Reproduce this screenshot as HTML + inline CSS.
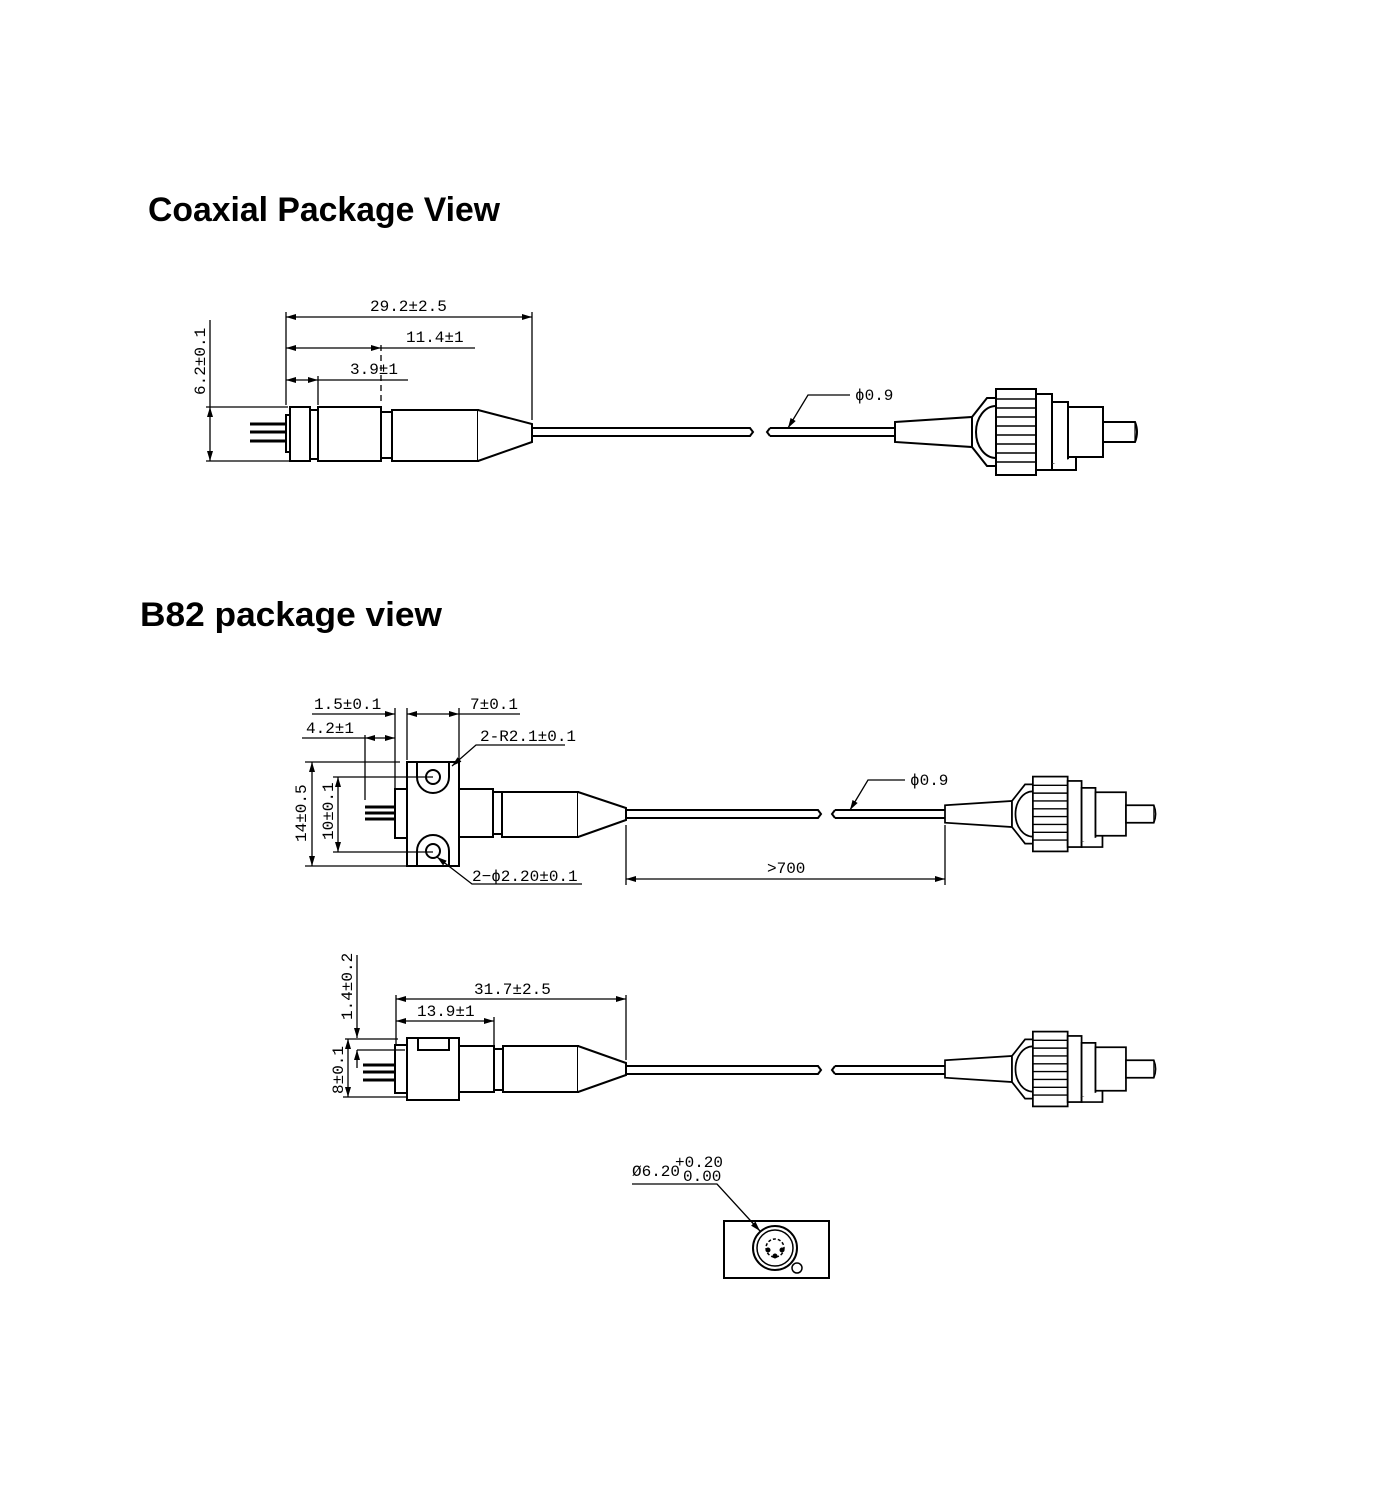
<!DOCTYPE html>
<html><head><meta charset="utf-8"><style>
html,body{margin:0;padding:0;background:#fff;}
svg{display:block}
.t{font-family:"Liberation Sans",sans-serif;fill:#000;font-weight:bold}
.d{font-family:"Liberation Mono",monospace;font-size:16px;fill:#000}
</style></head><body>
<svg width="1400" height="1500" viewBox="0 0 1400 1500" xmlns="http://www.w3.org/2000/svg">
<defs>
<marker id="a" viewBox="0 0 10 6" refX="10" refY="3" markerWidth="10" markerHeight="6" orient="auto-start-reverse" markerUnits="userSpaceOnUse"><path d="M0,0 L10,3 L0,6z" fill="#000"/></marker>
<g id="conn" fill="#fff" stroke="#000" stroke-width="2">
<path d="M0,-10 L77,-15 L77,15 L0,10z"/>
<path d="M77,-15 L92,-34 L101,-34 L101,34 L92,34 L77,15z"/>
<path d="M101,-26 A20,26 0 0 0 101,26" fill="none"/>
<rect x="101" y="-43" width="40" height="86"/>
<path d="M101,-33H141M101,-24H141M101,-15H141M101,-6H141M101,3H141M101,12H141M101,21H141M101,30H141" stroke-width="1.6"/>
<rect x="141" y="-38" width="16" height="76"/>
<path d="M157,-30 H173 V32 H157z"/>
<path d="M157,32 V38 H181 V25"/>
<rect x="173" y="-25" width="35" height="50"/>
<path d="M208,-10 H240 Q244,0 240,10 H208z"/>
<path d="M240,-10 V10" stroke-width="1.2"/>
</g>
</defs>

<text class="t" x="148" y="221" font-size="34" textLength="352" lengthAdjust="spacingAndGlyphs">Coaxial Package View</text>
<text class="t" x="140" y="626" font-size="34" textLength="302" lengthAdjust="spacingAndGlyphs">B82 package view</text>

<!-- ===== Coaxial ===== -->
<g stroke="#000" stroke-width="2" fill="#fff">
<path d="M250,424H286M250,432H286M250,441H286" stroke-width="3"/>
<rect x="286" y="415" width="4" height="37"/>
<rect x="290" y="407" width="20" height="54"/>
<rect x="310" y="410" width="8" height="49"/>
<rect x="318" y="407" width="63" height="54"/>
<rect x="381" y="412" width="11" height="46"/>
<rect x="392" y="410" width="86" height="51"/>
<path d="M478,410 L532,424 L532,442 L478,461"/>
<path d="M532,428H750 L753,432 L750,436 H532" fill="none"/>
<path d="M770,428H895M770,436H895 M770,428 L767,432 L770,436" fill="none"/>
</g>
<use href="#conn" transform="translate(895,432)"/>
<g stroke="#000" stroke-width="1.3" fill="none">
<line x1="286" y1="312" x2="286" y2="405"/>
<line x1="532" y1="312" x2="532" y2="420"/>
<line x1="381" y1="345" x2="381" y2="405" stroke-dasharray="6,4"/>
<line x1="318" y1="376" x2="318" y2="405"/>
<line x1="286" y1="317" x2="532" y2="317" marker-start="url(#a)" marker-end="url(#a)"/>
<line x1="286" y1="348" x2="381" y2="348" marker-start="url(#a)" marker-end="url(#a)"/>
<line x1="381" y1="348" x2="475" y2="348"/>
<line x1="286" y1="380" x2="318" y2="380" marker-start="url(#a)" marker-end="url(#a)"/>
<line x1="318" y1="380" x2="408" y2="380"/>
<line x1="210" y1="320" x2="210" y2="407" />
<line x1="210" y1="407" x2="210" y2="461" marker-start="url(#a)" marker-end="url(#a)"/>
<line x1="206" y1="407" x2="288" y2="407"/>
<line x1="206" y1="461" x2="290" y2="461"/>
<path d="M850,395H808L788,428" marker-end="url(#a)"/>
</g>
<text class="d" x="370" y="311">29.2±2.5</text>
<text class="d" x="406" y="342">11.4±1</text>
<text class="d" x="350" y="374">3.9±1</text>
<text class="d" transform="translate(205,395) rotate(-90)">6.2±0.1</text>
<text class="d" x="855" y="400">ϕ0.9</text>

<!-- ===== B82 top ===== -->
<g stroke="#000" stroke-width="2" fill="#fff">
<path d="M365,807H395M365,813H395M365,819H395" stroke-width="3"/>
<rect x="395" y="789" width="12" height="49"/>
<rect x="407" y="762" width="52" height="104"/>
<path d="M417,762 V777 A16,16 0 0 0 449,777 V762" fill="none"/>
<path d="M417,866 V851 A16,16 0 0 1 449,851 V866" fill="none"/>
<circle cx="433" cy="777" r="7"/>
<circle cx="433" cy="851" r="7"/>
<rect x="459" y="789" width="34" height="48"/>
<rect x="493" y="792" width="9" height="42"/>
<rect x="502" y="792" width="76" height="45"/>
<path d="M578,792 L626,808 L626,820 L578,837"/>
<path d="M626,810H818 L821,814 L818,818 H626" fill="none"/>
<path d="M835,810H945M835,818H945 M835,810 L832,814 L835,818" fill="none"/>
</g>
<use href="#conn" transform="translate(945,814) scale(0.87)"/>
<g stroke="#000" stroke-width="1.3" fill="none">
<line x1="395" y1="708" x2="395" y2="789"/>
<line x1="407" y1="708" x2="407" y2="760"/>
<line x1="459" y1="708" x2="459" y2="760"/>
<line x1="312" y1="714" x2="395" y2="714" marker-end="url(#a)"/>
<line x1="407" y1="714" x2="459" y2="714" marker-start="url(#a)" marker-end="url(#a)"/>
<line x1="459" y1="714" x2="520" y2="714"/>
<line x1="302" y1="738" x2="365" y2="738"/>
<line x1="365" y1="738" x2="395" y2="738" marker-start="url(#a)" marker-end="url(#a)"/>
<line x1="365" y1="735" x2="365" y2="800"/>
<path d="M565,745H476L452,766" marker-end="url(#a)"/>
<line x1="312" y1="762" x2="312" y2="866" marker-start="url(#a)" marker-end="url(#a)"/>
<line x1="305" y1="762" x2="400" y2="762"/>
<line x1="305" y1="866" x2="407" y2="866"/>
<line x1="338" y1="777" x2="338" y2="852" marker-start="url(#a)" marker-end="url(#a)"/>
<line x1="333" y1="777" x2="433" y2="777"/>
<line x1="333" y1="852" x2="433" y2="852"/>
<path d="M582,884H472L437,857" marker-end="url(#a)"/>
<line x1="626" y1="825" x2="626" y2="885"/>
<line x1="945" y1="825" x2="945" y2="885"/>
<line x1="626" y1="879" x2="945" y2="879" marker-start="url(#a)" marker-end="url(#a)"/>
<path d="M905,780H868L850,810" marker-end="url(#a)"/>
</g>
<text class="d" x="314" y="709">1.5±0.1</text>
<text class="d" x="470" y="709">7±0.1</text>
<text class="d" x="306" y="733">4.2±1</text>
<text class="d" x="480" y="741">2-R2.1±0.1</text>
<text class="d" x="472" y="881">2−ϕ2.20±0.1</text>
<text class="d" transform="translate(306,842) rotate(-90)">14±0.5</text>
<text class="d" transform="translate(333,840) rotate(-90)">10±0.1</text>
<text class="d" x="767" y="873">&gt;700</text>
<text class="d" x="910" y="785">ϕ0.9</text>

<!-- ===== B82 side ===== -->
<g stroke="#000" stroke-width="2" fill="#fff">
<path d="M363,1065H395M363,1072H395M363,1080H395" stroke-width="3"/>
<rect x="395" y="1045" width="12" height="48"/>
<rect x="407" y="1038" width="52" height="62"/>
<rect x="418" y="1038" width="31" height="12"/>
<rect x="459" y="1046" width="35" height="46"/>
<rect x="494" y="1049" width="9" height="41"/>
<rect x="503" y="1046" width="75" height="46"/>
<path d="M578,1046 L626,1063 L626,1075 L578,1092"/>
<path d="M626,1066H818 L821,1070 L818,1074 H626" fill="none"/>
<path d="M835,1066H945M835,1074H945 M835,1066 L832,1070 L835,1074" fill="none"/>
</g>
<use href="#conn" transform="translate(945,1069) scale(0.87)"/>
<g stroke="#000" stroke-width="1.3" fill="none">
<line x1="396" y1="995" x2="396" y2="1045"/>
<line x1="494" y1="1017" x2="494" y2="1046"/>
<line x1="626" y1="995" x2="626" y2="1060"/>
<line x1="396" y1="999" x2="626" y2="999" marker-start="url(#a)" marker-end="url(#a)"/>
<line x1="396" y1="1021" x2="494" y2="1021" marker-start="url(#a)" marker-end="url(#a)"/>
<line x1="357" y1="955" x2="357" y2="1038" marker-end="url(#a)"/>
<line x1="357" y1="1068" x2="357" y2="1050" marker-end="url(#a)"/>
<line x1="345" y1="1039" x2="398" y2="1039"/>
<line x1="357" y1="1050" x2="405" y2="1050"/>
<line x1="348" y1="1039" x2="348" y2="1097" marker-start="url(#a)" marker-end="url(#a)"/>
<line x1="343" y1="1097" x2="407" y2="1097"/>
</g>
<text class="d" x="474" y="994">31.7±2.5</text>
<text class="d" x="417" y="1016">13.9±1</text>
<text class="d" transform="translate(352,1020) rotate(-90)">1.4±0.2</text>
<text class="d" transform="translate(343,1094) rotate(-90)">8±0.1</text>

<!-- ===== end view ===== -->
<g stroke="#000" fill="none">
<rect x="724" y="1221" width="105" height="57" stroke-width="2"/>
<circle cx="775" cy="1248" r="22" stroke-width="2"/>
<circle cx="775" cy="1248" r="18" stroke-width="1.5"/>
<circle cx="775" cy="1248" r="9" stroke-width="1.5" stroke-dasharray="3,2"/>
<circle cx="797" cy="1268" r="5" stroke-width="1.5" fill="#fff"/>
<circle cx="768" cy="1250" r="2" fill="#000"/>
<circle cx="782" cy="1250" r="2" fill="#000"/>
<circle cx="775" cy="1256" r="2" fill="#000"/>
<path d="M632,1184H717L760,1231" stroke-width="1.3" marker-end="url(#a)"/>
</g>
<text class="d" x="632" y="1176" font-size="15">Ø6.20</text>
<text class="d" x="675" y="1167" font-size="14">+0.20</text>
<text class="d" x="683" y="1181" font-size="14">0.00</text>
</svg>
</body></html>
